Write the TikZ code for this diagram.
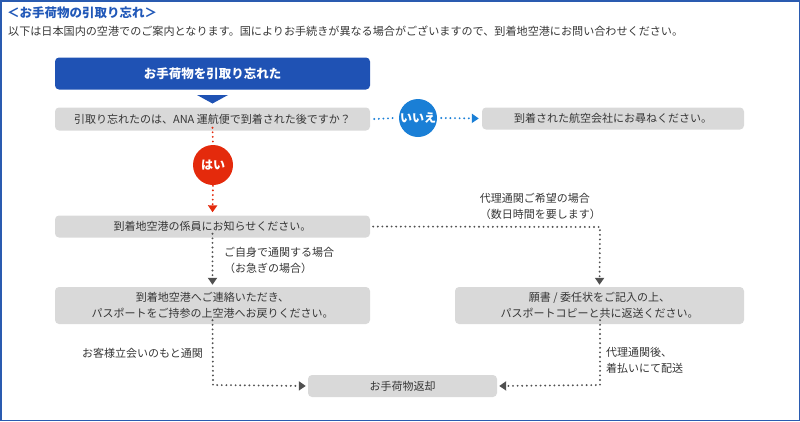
\documentclass[tikz,border=0pt]{standalone}
\usepackage{fontspec}
\setmainfont{Noto Sans CJK JP}
\usetikzlibrary{arrows.meta}
\definecolor{frameblue}{HTML}{2A5BB0}
\definecolor{titleblue}{HTML}{2158B8}
\definecolor{topblue}{HTML}{1F52B4}
\definecolor{noblue}{HTML}{1A7FD6}
\definecolor{yesred}{HTML}{E42A0C}
\definecolor{boxgray}{HTML}{D9D9D9}
\definecolor{txt}{HTML}{363636}
\definecolor{dotgray}{HTML}{505050}
\tikzset{
  fs/.style={font=\fontsize{11}{16}\selectfont},
  graybox/.style={fill=boxgray, rounded corners=4pt, text=txt, fs, align=center, inner sep=0pt},
  circ/.style={circle, minimum size=40pt, inner sep=0pt, text=white, font=\fontsize{12}{14}\selectfont\bfseries},
  dots/.style={line width=2.1pt, dash pattern=on 0pt off 4.6pt, line cap=round},
  tip/.style={-{Triangle[length=7pt,width=9pt]}},
  lbl/.style={text=txt, fs, inner sep=0pt}
}
\begin{document}
\begin{tikzpicture}[x=1pt,y=-1pt]
\useasboundingbox (0,0) rectangle (800,421);
\draw[frameblue, line width=1.5pt] (0.75,0.75) rectangle (799.25,420.25);

\node[anchor=west, inner sep=0pt, text=titleblue, font=\fontsize{12.5}{14}\selectfont\bfseries] (title) at (7,13) {＜お手荷物の引取り忘れ＞};
\node[anchor=west, lbl, font=\fontsize{11.1}{16}\selectfont] (sub) at (8,31.5) {以下は日本国内の空港でのご案内となります。国によりお手続きが異なる場合がございますので、到着地空港にお問い合わせください。};

\node[fill=topblue, rounded corners=4pt, minimum width=315pt, minimum height=32pt, inner sep=0pt, text=white, font=\fontsize{12.5}{14}\selectfont\bfseries] (top) at (212.5,73.5) {お手荷物を引取り忘れた};
\fill[topblue] (197,95) -- (228,95) -- (212.5,103.5) -- cycle;

\node[graybox, minimum width=315pt, minimum height=23pt] (q) at (212.5,119) {引取り忘れたのは、ANA 運航便で到着された後ですか？};
\node[circ, fill=noblue, minimum size=38pt] (no) at (418,118) {いいえ};
\node[graybox, minimum width=262pt, minimum height=22pt] (r1) at (613,118.5) {到着された航空会社にお尋ねください。};

\node[circ, fill=yesred] (yes) at (213,165) {はい};
\node[graybox, minimum width=315pt, minimum height=22pt] (b3) at (212.5,226.5) {到着地空港の係員にお知らせください。};

\node[graybox, minimum width=315pt, minimum height=37pt] (b4) at (212.5,305.5) {到着地空港へご連絡いただき、\\パスポートをご持参の上空港へお戻りください。};
\node[graybox, minimum width=289pt, minimum height=37pt] (b5) at (599.5,305.5) {願書 / 委任状をご記入の上、\\パスポートコピーと共に返送ください。};
\node[graybox, minimum width=189pt, minimum height=22pt] (b6) at (402.5,386) {お手荷物返却};

\coordinate (c1) at (600,227);
\coordinate (c2) at (213,385);
\coordinate (c3) at (600,385);

% blue (no)
\draw[dots, noblue] ([xshift=4pt]q.east) -- ([xshift=-4pt]no.west);
\draw[dots, noblue, tip, shorten >=3pt] ([xshift=4pt]no.east) -- (r1.west);
% red (yes)
\draw[dots, yesred] ([yshift=3pt]q.south) -- ([yshift=-3pt]yes.north);
\draw[dots, yesred, tip, shorten >=3pt] ([yshift=4pt]yes.south) -- (b3.north);
% gray
\draw[dots, dotgray, tip, shorten >=2pt] ([xshift=3pt]b3.east) -- (c1) -- (b5.north);
\draw[dots, dotgray, tip, shorten >=2pt] ([yshift=4pt]b3.south) -- (b4.north);
\draw[dots, dotgray, tip, shorten >=2pt] ([yshift=4pt]b4.south) -- (c2) -- (b6.west);
\draw[dots, dotgray, tip, shorten >=2pt] ([yshift=4pt,xshift=0.5pt]b5.south) -- (c3) -- (b6.east);

% labels
\node[lbl, anchor=west, align=left] (l1) at (224,260.5) {ご自身で通関する場合\\（お急ぎの場合）};
\node[lbl, anchor=east, align=left] (l2) at (601,206) {代理通関ご希望の場合\\（数日時間を要します）};
\node[lbl, anchor=east] (l3) at (203,353.5) {お客様立会いのもと通関};
\node[lbl, anchor=west, align=left] (l4) at (606,360) {代理通関後、\\着払いにて配送};
\end{tikzpicture}
\end{document}
